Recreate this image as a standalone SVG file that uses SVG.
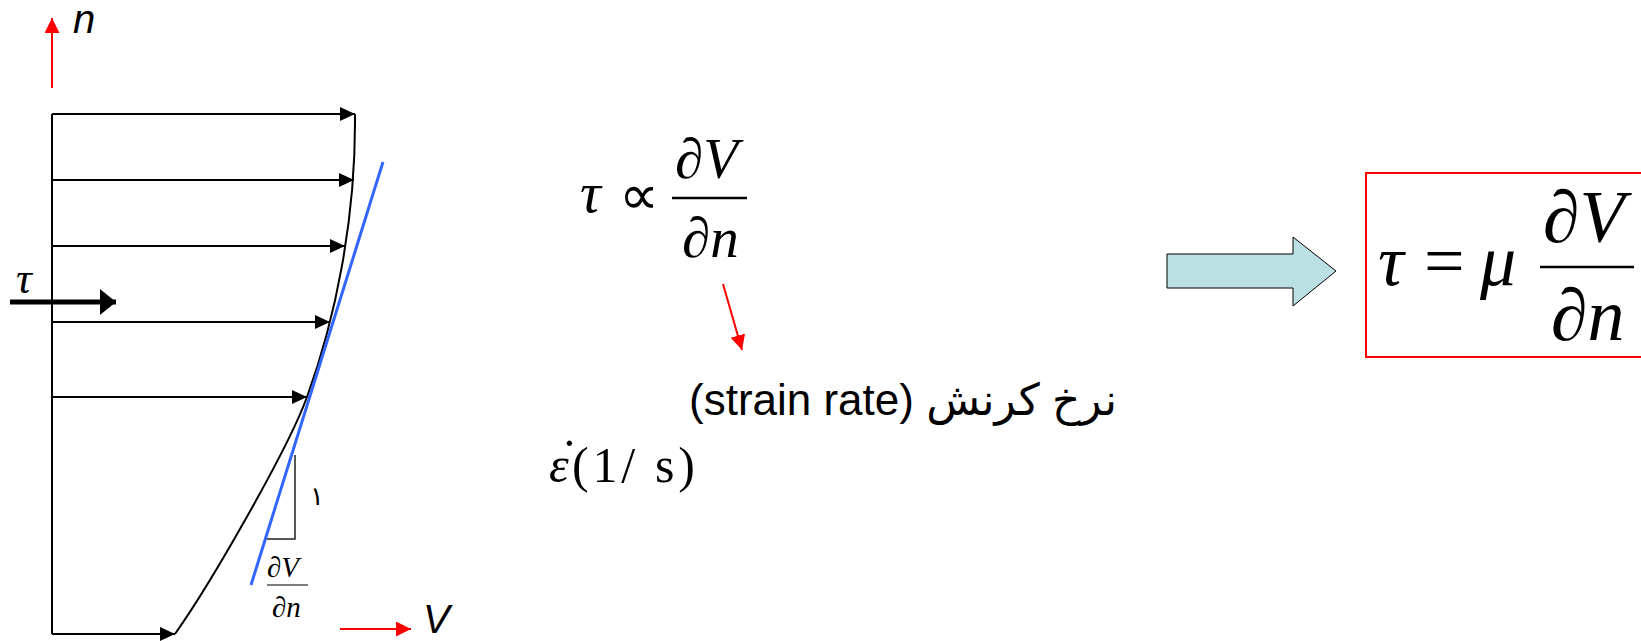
<svg xmlns="http://www.w3.org/2000/svg" width="1641" height="641" viewBox="0 0 1641 641">
<defs>
<style>
.ln{stroke:#000;stroke-width:2;fill:none}
.rd{stroke:#f00;stroke-width:2;fill:none}
.math{font-family:"Liberation Serif","DejaVu Serif",serif;font-style:italic;fill:#000}
.up{font-family:"Liberation Serif","DejaVu Serif",serif;fill:#000}
.sans{font-family:"Liberation Sans","DejaVu Sans",sans-serif;fill:#000}
</style>
<marker id="ab" markerUnits="userSpaceOnUse" markerWidth="16" markerHeight="16" refX="15" refY="7" orient="auto"><path d="M0,0 L15,7 L0,14 Z" fill="#000"/></marker>
<marker id="ar" markerUnits="userSpaceOnUse" markerWidth="16" markerHeight="16" refX="15" refY="7.5" orient="auto"><path d="M0,0 L15,7.5 L0,15 Z" fill="#f00"/></marker>
<marker id="at" markerUnits="userSpaceOnUse" markerWidth="18" markerHeight="28" refX="16" refY="13" orient="auto"><path d="M0,0 L16,13 L0,26 Z" fill="#000"/></marker>
</defs>

<g id="axes">
<line class="rd" x1="52" y1="88" x2="52" y2="18" marker-end="url(#ar)"/>
<text class="sans" x="73" y="33" font-size="40" font-style="italic">n</text>
<line class="rd" x1="340" y1="629" x2="411" y2="629" marker-end="url(#ar)"/>
<text class="sans" x="423" y="633" font-size="40" font-style="italic">V</text>
</g>

<g id="profile">
<line class="ln" x1="52" y1="114" x2="52" y2="634"/>
<path class="ln" d="M355,114 C356,220 335,320 307,397 C289,447 213,580 175,634"/>
<g id="velocity-arrows">
<line class="ln" x1="52" y1="114" x2="355" y2="114" marker-end="url(#ab)"/>
<line class="ln" x1="52" y1="180" x2="354" y2="180" marker-end="url(#ab)"/>
<line class="ln" x1="52" y1="246" x2="345" y2="246" marker-end="url(#ab)"/>
<line class="ln" x1="52" y1="322" x2="330" y2="322" marker-end="url(#ab)"/>
<line class="ln" x1="52" y1="397" x2="307" y2="397" marker-end="url(#ab)"/>
<line class="ln" x1="52" y1="634" x2="175" y2="634" marker-end="url(#ab)"/>
</g>
<line x1="383" y1="162" x2="251" y2="585" stroke="#3366ff" stroke-width="3"/>
<path d="M295,455 L295,539 L267,539" fill="none" stroke="#222" stroke-width="1.5"/>
<text class="sans" x="310" y="505" font-size="26">١</text>
<text class="math" x="267" y="577" font-size="29">∂V</text>
<line x1="267" y1="585" x2="308" y2="585" stroke="#000" stroke-width="1.2"/>
<text class="math" x="272" y="617" font-size="29">∂n</text>
</g>

<g id="shear">
<text class="math" x="16" y="293" font-size="44">τ</text>
<line x1="10" y1="302" x2="116" y2="302" stroke="#000" stroke-width="5" marker-end="url(#at)"/>
</g>

<g id="proportional">
<text class="math" x="580" y="212" font-size="58">τ</text>
<text x="619" y="214" font-size="56" font-family="DejaVu Sans, sans-serif">∝</text>
<text class="math" x="675" y="178" font-size="57">∂V</text>
<line x1="672" y1="198" x2="747" y2="198" stroke="#000" stroke-width="2.5"/>
<text class="math" x="682" y="257" font-size="57">∂n</text>
</g>

<g id="connectors">
<line class="rd" x1="723" y1="284" x2="742" y2="350" marker-end="url(#ar)"/>
</g>

<g id="strain-rate">
<text class="sans" x="689" y="415" font-size="44" direction="ltr">(strain rate) نرخ کرنش</text>
<text class="up" x="549" y="482" font-size="50"><tspan font-style="italic">ε</tspan><tspan x="561" y="474">˙</tspan><tspan x="572" y="482" textLength="123">(1/ s)</tspan></text>
</g>

<g id="block-arrow">
<path d="M1167,254 L1293,254 L1293,237 L1336,271 L1293,306 L1293,288 L1167,288 Z" fill="#bbe0e3" stroke="#000" stroke-width="1"/>
</g>

<g id="result">
<rect x="1366" y="173" width="290" height="184" fill="none" stroke="#f00" stroke-width="2"/>
<text class="math" x="1378" y="285" font-size="72">τ</text>
<text class="up" x="1424" y="285" font-size="72">=</text>
<text class="math" x="1480" y="285" font-size="72">μ</text>
<text class="math" x="1543" y="242" font-size="74">∂V</text>
<line x1="1540" y1="267" x2="1634" y2="267" stroke="#000" stroke-width="2.5"/>
<text class="math" x="1551" y="340" font-size="74">∂n</text>
</g>
</svg>
